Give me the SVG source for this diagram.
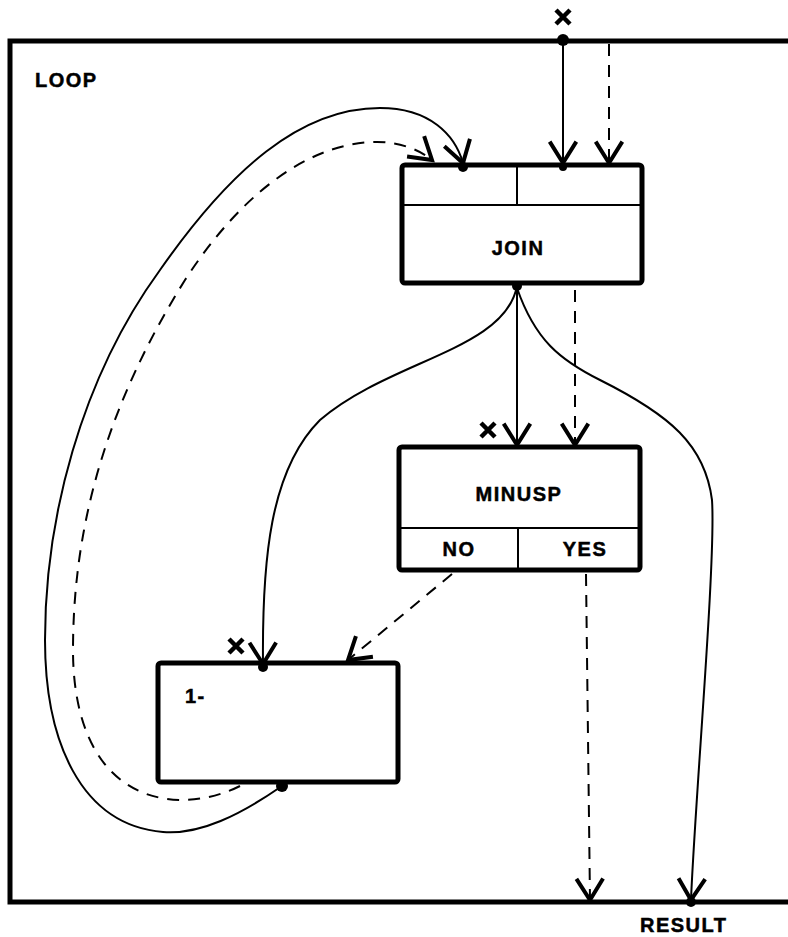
<svg xmlns="http://www.w3.org/2000/svg" width="788" height="937" viewBox="0 0 788 937">
<defs>
<marker id="arr" markerUnits="userSpaceOnUse" markerWidth="40" markerHeight="40" refX="0" refY="0" viewBox="-20 -15 25 30" orient="auto" overflow="visible">
<path d="M-16,-10 L0,0 L-16,10" fill="none" stroke="#000" stroke-width="3"/>
</marker>
</defs>
<style>
.box{fill:#fff;stroke:#000;stroke-width:5}
.div{stroke:#000;stroke-width:2;fill:none}
.lbl{font-family:"Liberation Sans",Arial,sans-serif;font-weight:bold;font-size:20px;letter-spacing:1.5px;fill:#000;stroke:#000;stroke-width:0.5}
.s{fill:none;stroke:#000;stroke-width:2;marker-end:url(#arr)}
.d{fill:none;stroke:#000;stroke-width:2;stroke-dasharray:12,9;marker-end:url(#arr)}
.x{stroke:#000;stroke-width:4.5;fill:none}
</style>
<rect width="788" height="937" fill="#fff"/>
<g id="loop">
<path d="M800,41 L10,41 L10,902 L800,902" fill="none" stroke="#000" stroke-width="5"/>
<text class="lbl" x="35" y="87">LOOP</text>
<text class="lbl" x="640" y="932">RESULT</text>
</g>
<g id="join">
<rect class="box" x="402" y="165" width="240" height="118" rx="3"/>
<line class="div" x1="402" y1="205" x2="642" y2="205"/>
<line class="div" x1="517" y1="165" x2="517" y2="205"/>
<text class="lbl" x="518" y="255" text-anchor="middle">JOIN</text>
</g>
<g id="minusp">
<rect class="box" x="399" y="447" width="241" height="123" rx="3"/>
<line class="div" x1="399" y1="528" x2="640" y2="528"/>
<line class="div" x1="518" y1="528" x2="518" y2="570"/>
<text class="lbl" x="519" y="501" text-anchor="middle">MINUSP</text>
<text class="lbl" x="459" y="556" text-anchor="middle">NO</text>
<text class="lbl" x="585" y="556" text-anchor="middle">YES</text>
</g>
<g id="oneminus">
<rect class="box" x="158" y="663" width="240" height="119" rx="3"/>
<text class="lbl" x="185" y="703">1-</text>
</g>
<g id="connectors">
<path class="s" d="M563,40 L563,163"/>
<path class="d" d="M609,44 L609,163"/>
<path class="s" d="M517,286 L517,445"/>
<path class="d" d="M575,290 L575,445"/>
<path class="s" d="M517,286 C505,350 390,360 320,420 C270,470 262,560 263,664"/>
<path class="s" d="M517,288 C535,340 560,360 600,380 C670,415 705,445 712,500 C716,560 695,800 691,900"/>
<path class="d" d="M452,574 L348,660"/>
<path class="d" d="M586,574 L590,900"/>
<path class="s" d="M282,786 C240,815 200,835 163,832 C80,825 45,740 45,640 C45,520 80,380 160,270 C230,170 300,108 380,108 C430,108 455,135 463,163"/>
<path class="d" d="M240,786 C220,796 200,800 180,800 C110,798 73,740 73,650 C73,520 110,400 185,280 C250,180 320,142 377,142 C400,142 420,150 432,160"/>
<circle cx="563" cy="40" r="6"/>
<circle cx="517" cy="286" r="5"/>
<circle cx="463" cy="167" r="5"/>
<circle cx="563" cy="167" r="4"/>
<circle cx="263" cy="667" r="5"/>
<circle cx="282" cy="786" r="6"/>
<circle cx="691" cy="902" r="5"/>
<path class="x" d="M556,10 L570,24 M570,10 L556,24"/>
<path class="x" d="M481,423 L495,437 M495,423 L481,437"/>
<path class="x" d="M229,639 L243,653 M243,639 L229,653"/>
</g>
</svg>
